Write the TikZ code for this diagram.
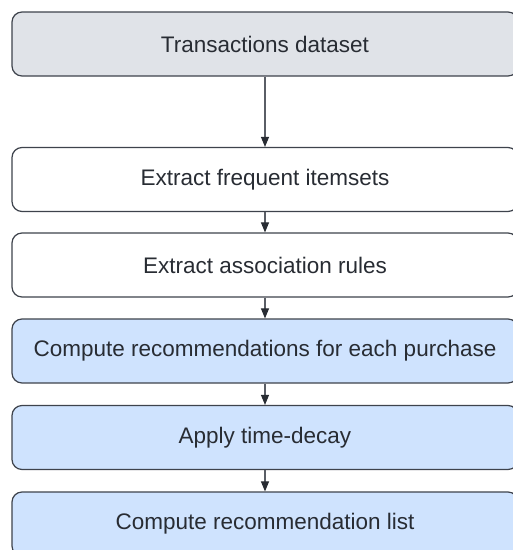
\documentclass[tikz,border=0pt]{standalone}
\usepackage{fontspec}
\setmainfont{Liberation Sans}
\usetikzlibrary{arrows.meta}
\definecolor{boxline}{HTML}{3E434C}
\definecolor{boxtext}{HTML}{282C33}
\definecolor{grayfill}{HTML}{E0E3E8}
\definecolor{bluefill}{HTML}{CFE3FE}
\definecolor{arrowline}{HTML}{5A5E66}
\tikzset{
  stepbox/.style={draw=boxline, line width=1.2pt, rounded corners=10pt,
    minimum width=506pt, minimum height=64pt, inner sep=0pt,
    text=boxtext, font=\fontsize{22.5pt}{26pt}\selectfont},
  flow/.style={draw=arrowline, line width=1.1pt,
    -{Triangle[length=10pt,width=8pt,color=boxtext,fill=boxtext]}},
}
\begin{document}
\begin{tikzpicture}[x=1pt,y=-1pt]
  \useasboundingbox (0,0) rectangle (513,550);
  \clip (0,0) rectangle (513,550);
  \node[stepbox, fill=grayfill] (data) at (265,44) {Transactions dataset};
  \node[stepbox, fill=white] (freq) at (265,179.5) {Extract frequent itemsets};
  \node[stepbox, fill=white] (rules) at (265,265) {Extract association rules};
  \node[stepbox, fill=bluefill] (rec) at (265,351) {Compute recommendations for each purchase};
  \node[stepbox, fill=bluefill] (decay) at (265,437.5) {Apply time-decay};
  \node[stepbox, fill=bluefill] (list) at (265,524) {Compute recommendation list};
  \draw[flow] (data) -- (freq);
  \draw[flow] (freq) -- (rules);
  \draw[flow] (rules) -- (rec);
  \draw[flow] (rec) -- (decay);
  \draw[flow] (decay) -- (list);
\end{tikzpicture}
\end{document}
